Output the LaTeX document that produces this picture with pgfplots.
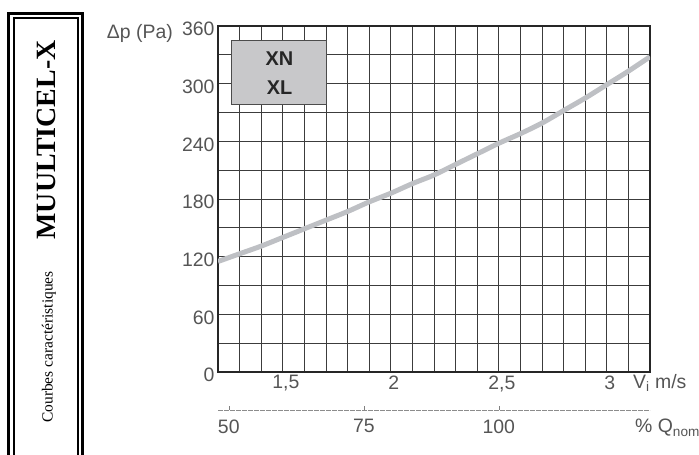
\documentclass[border=0pt]{standalone}
\usepackage{fontspec}
\setmainfont{Liberation Sans}
\newfontfamily\serifface{Liberation Serif}
\usepackage{pgfplots}
\pgfplotsset{compat=1.18}

\definecolor{labgray}{RGB}{85,85,85}
\definecolor{gridc}{RGB}{60,60,60}
\definecolor{curvec}{RGB}{190,192,196}
\definecolor{boxfill}{RGB}{200,200,202}

\newcommand{\lblfont}{\fontsize{19.5}{22}\selectfont}

\begin{document}
\begin{tikzpicture}
\useasboundingbox (0bp,0bp) rectangle (699bp,455bp);

% side panel with double frame
\draw[line width=3bp] (8.5bp,-20bp) -- (8.5bp,441.5bp) -- (82.5bp,441.5bp) -- (82.5bp,-20bp);
\draw[line width=1.6bp] (14bp,-20bp) -- (14bp,437bp) -- (78bp,437bp) -- (78bp,-20bp);
\node[rotate=90, font=\serifface\bfseries\fontsize{28}{30}\selectfont] at (46bp,315bp) {MUULTICEL-X};
\node[rotate=90, font=\serifface\fontsize{15.5}{17}\selectfont] at (49bp,108bp) {Courbes caractéristiques};

% main chart
\begin{axis}[
    at={(218bp,83bp)}, anchor=south west,
    scale only axis, width=432bp, height=346bp,
    clip mode=individual,
    xmin=1.2, xmax=3.2, ymin=0, ymax=360,
    xtick={1.5,2,2.5,3}, xticklabels={{1,5},2,{2,5},3},
    minor xtick={1.2,1.3,...,3.25},
    ytick={0,60,...,360}, yticklabels={0,60,120,180,240,300,360},
    minor ytick={30,90,...,330},
    grid=both,
    major grid style={gridc, line width=0.8bp},
    minor grid style={gridc, line width=0.8bp},
    tick style={draw=none},
    axis line style={black!85, line width=1.5bp},
    tick label style={font=\lblfont, text=labgray},
    xticklabel style={xshift=3bp},
    yticklabel style={yshift=-3bp},
  ]
  \addplot[curvec, line width=5bp, smooth] coordinates {
    (1.2,115) (1.3,123) (1.4,131) (1.5,140) (1.6,149) (1.7,158)
    (1.8,167) (1.9,177) (2.0,186) (2.1,196) (2.2,205) (2.3,216)
    (2.4,227) (2.5,238) (2.6,248) (2.7,259) (2.8,272) (2.9,285)
    (3.0,299) (3.1,313) (3.2,328)
  };
  \node[draw=black!70, line width=1bp, fill=boxfill, minimum width=95bp, minimum height=64bp,
        align=center, font=\bfseries\fontsize{20}{29}\selectfont, text=black!85]
    at (axis cs:1.4847,311.1) {XN\\XL};
  \node[anchor=east, inner sep=0pt, font=\lblfont, text=labgray, xshift=-45bp]
    at (axis cs:1.2,351.7) {Δp (Pa)};
  \node[anchor=west, inner sep=0pt, font=\lblfont, text=labgray, xshift=-17bp, yshift=-11bp]
    at (rel axis cs:1,0) {V\textsubscript{i} m/s};
\end{axis}

% secondary scale: percentage of nominal flow
\begin{axis}[
    at={(218bp,45bp)}, anchor=south west,
    scale only axis, width=432bp, height=10bp,
    clip mode=individual,
    xmin=48, xmax=128, ymin=0, ymax=1,
    axis x line=bottom, axis y line=none,
    x axis line style={-, black!45, line width=0.7bp, dash pattern=on 5bp off 1bp},
    xtick={50,75,100}, xticklabels={50,75,100},
    tick align=inside, major tick length=4bp,
    tick style={black!50, line width=0.5bp},
    tick label style={font=\lblfont, text=labgray},
    xticklabel style={yshift=-6bp},
  ]
  \node[anchor=west, inner sep=0pt, font=\lblfont, text=labgray, xshift=-15bp, yshift=-18bp]
    at (rel axis cs:1,0) {\% Q\textsubscript{nom}};
\end{axis}
\end{tikzpicture}
\end{document}
